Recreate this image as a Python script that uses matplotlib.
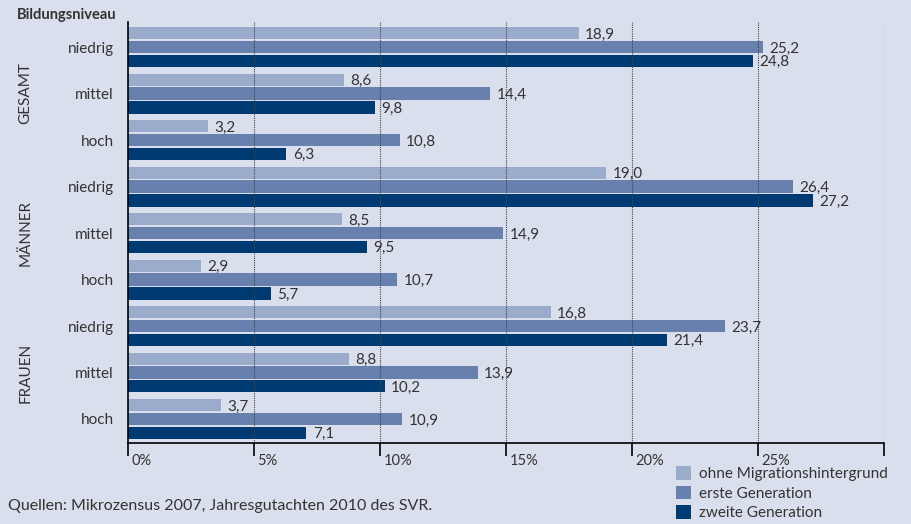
# Bildungsniveau nach Migrationshintergrund, horizontale Balken

import matplotlib.pyplot as plt
import matplotlib.transforms as mtrans

plt.rcParams['font.family'] = ['Lato', 'DejaVu Sans']

groups = ['GESAMT', 'MÄNNER', 'FRAUEN']
levels = ['niedrig', 'mittel', 'hoch']
series = ['ohne Migrationshintergrund', 'erste Generation', 'zweite Generation']

ohne = [18.9, 8.6, 3.2, 19.0, 8.5, 2.9, 16.8, 8.8, 3.7]
erste = [25.2, 14.4, 10.8, 26.4, 14.9, 10.7, 23.7, 13.9, 10.9]
zweite = [24.8, 9.8, 6.3, 27.2, 9.5, 5.7, 21.4, 10.2, 7.1]

# in the original the first light bar (labelled 18,9) is drawn at about 17,9
drawn_ohne = [17.9, 8.6, 3.2, 19.0, 8.5, 2.9, 16.8, 8.8, 3.7]

xticks = [0, 5, 10, 15, 20, 25, 30]
xlabels = ['0%', '5%', '10%', '15%', '20%', '25%', '']

colors = ['#9aabcb', '#6880ae', '#003a73']
bg = '#d9dfec'
txt = '#333333'

fig = plt.figure(figsize=(9.11, 5.24), dpi=100, facecolor=bg)
ax = fig.add_axes([0.14, 0.1546, 0.830, 0.8034])
ax.set_facecolor(bg)

offs = [-0.3, 0.0, 0.3]
h = 0.26
for s, (bars, vals) in enumerate([(drawn_ohne, ohne), (erste, erste), (zweite, zweite)]):
    ys = [i + offs[s] for i in range(len(vals))]
    ax.barh(ys, bars, height=h, color=colors[s], label=series[s], zorder=1)
    for y, b, v in zip(ys, bars, vals):
        ax.text(b + 0.25, y + 0.03, f'{v:.1f}'.replace('.', ','), va='center', ha='left',
                fontsize=11, color=txt)

for x in xticks[1:]:
    ax.axvline(x, color='#444444', lw=0.8, ls=(0, (1, 1)), zorder=2)

ax.set_xlim(0, 30)
ax.set_ylim(8.516, -0.538)
ax.set_xticks(xticks)
ax.set_xticklabels(xlabels, ha='left', fontsize=10.5, color=txt)
ax.tick_params(axis='x', direction='out', length=9, width=1.2, color='black', pad=-1)
offset = mtrans.ScaledTranslation(4 / 100, 0, fig.dpi_scale_trans)
for lab in ax.get_xticklabels():
    lab.set_transform(lab.get_transform() + offset)

ax.set_yticks(range(9))
ax.set_yticklabels(levels * 3, fontsize=11, color=txt)
ax.tick_params(axis='y', length=0, pad=10)

for side in ['top', 'right']:
    ax.spines[side].set_visible(False)
ax.spines['left'].set_linewidth(1.2)
ax.spines['bottom'].set_linewidth(1.2)

for g, name in enumerate(groups):
    ax.text(-4.05, 3 * g + 1, name, rotation=90, ha='center',
            va='center', fontsize=11, color=txt, transform=ax.transData)

fig.text(116 / 911, 1 - 15 / 524, 'Bildungsniveau', ha='right', va='center',
         fontsize=10.5, fontweight='bold', color=txt)
fig.text(8 / 911, 1 - 506 / 524, 'Quellen: Mikrozensus 2007, Jahresgutachten 2010 des SVR.',
         ha='left', va='center', fontsize=11.5, color=txt)

leg = fig.legend(loc='upper left', bbox_to_anchor=(676 / 911, 1 - 466 / 524), frameon=False,
                 fontsize=11, handlelength=1.0, handleheight=1.0, handletextpad=0.5,
                 labelspacing=0.3, borderaxespad=0, borderpad=0)
for t in leg.get_texts():
    t.set_color(txt)

plt.savefig('out.png', dpi=100, facecolor=bg)
